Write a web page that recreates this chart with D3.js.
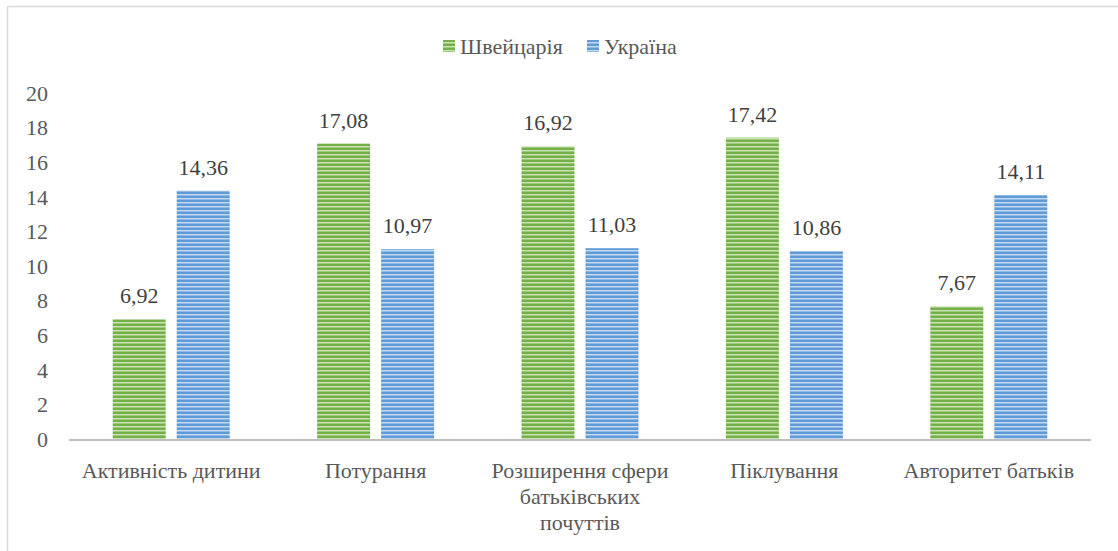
<!DOCTYPE html>
<html><head><meta charset="utf-8">
<script src="https://cdn.jsdelivr.net/npm/d3@7"></script>
</head><body style="margin:0">
<svg id="c" width="1118" height="551"></svg>
<script>
const categories = ["Активність дитини", "Потурання", "Розширення сфери батьківських почуттів", "Піклування", "Авторитет батьків"];
const categoryLines = [["Активність дитини"], ["Потурання"], ["Розширення сфери", "батьківських", "почуттів"], ["Піклування"], ["Авторитет батьків"]];
const seriesNames = ["Швейцарія", "Україна"];
const switzerland = [6.92, 17.08, 16.92, 17.42, 7.67];
const ukraine = [14.36, 10.97, 11.03, 10.86, 14.11];
const yTicks = [0, 2, 4, 6, 8, 10, 12, 14, 16, 18, 20];

const svg = d3.select("#c");
const textColor = "#595959";

const defs = svg.append("defs");
function stripe(id, base, light, mid) {
  const p = defs.append("pattern").attr("id", id).attr("patternUnits", "userSpaceOnUse")
    .attr("width", 8).attr("height", 4);
  p.append("rect").attr("width", 8).attr("height", 4).attr("fill", base);
  p.append("rect").attr("y", 2).attr("width", 8).attr("height", 1).attr("fill", light);
  p.append("rect").attr("y", 3).attr("width", 8).attr("height", 1).attr("fill", mid);
}
stripe("pg", "#75b04a", "#c9e3b5", "#9ccb7c");
stripe("pb", "#5f9bd6", "#c3daf1", "#8fb9e5");
const fills = ["url(#pg)", "url(#pb)"];

svg.append("rect").attr("x", 7.5).attr("y", 6.5).attr("width", 1200).attr("height", 700)
  .attr("fill", "none").attr("stroke", "#d9d9d9").attr("stroke-width", 1.5);

const x0 = d3.scaleBand().domain(categories).range([69, 1091]);
const y = d3.scaleLinear().domain([0, 20]).range([439, 93]);
const barW = 53, gap = 11;

function addText(x, yy, s, anchor, color, dy) {
  const t = svg.append("text").attr("x", x).attr("y", yy)
    .attr("style", "font-family:'Times New Roman',Tinos,'Liberation Serif',serif;font-size:22px")
    .attr("text-anchor", anchor).attr("fill", color).text(s);
  if (dy) t.attr("dy", dy);
  return t;
}

yTicks.forEach(d => addText(48, y(d), d, "end", textColor, "0.35em"));

categories.forEach((c, i) => {
  const cx = x0(c) + x0.bandwidth() / 2;
  [switzerland[i], ukraine[i]].forEach((v, k) => {
    const bx = k === 0 ? cx - gap / 2 - barW : cx + gap / 2;
    svg.append("rect").attr("x", bx).attr("y", y(v)).attr("width", barW)
      .attr("height", y(0) - y(v)).attr("fill", fills[k]);
    addText(bx + barW / 2, y(v) - 16, v.toFixed(2).replace(".", ","), "middle", "#404040");
  });
  categoryLines[i].forEach((ln, j) => addText(cx, 478 + j * 26, ln, "middle", textColor));
});

svg.append("line").attr("x1", 69).attr("x2", 1091).attr("y1", y(0) + 1).attr("y2", y(0) + 1)
  .attr("stroke", "#bfbfbf").attr("stroke-width", 2);

const legX = [443, 587];
seriesNames.forEach((n, k) => {
  svg.append("rect").attr("x", legX[k]).attr("y", 40).attr("width", 12).attr("height", 12).attr("fill", fills[k]);
  addText(legX[k] + 17, 46, n, "start", textColor, "0.35em");
});
</script>
</body></html>
